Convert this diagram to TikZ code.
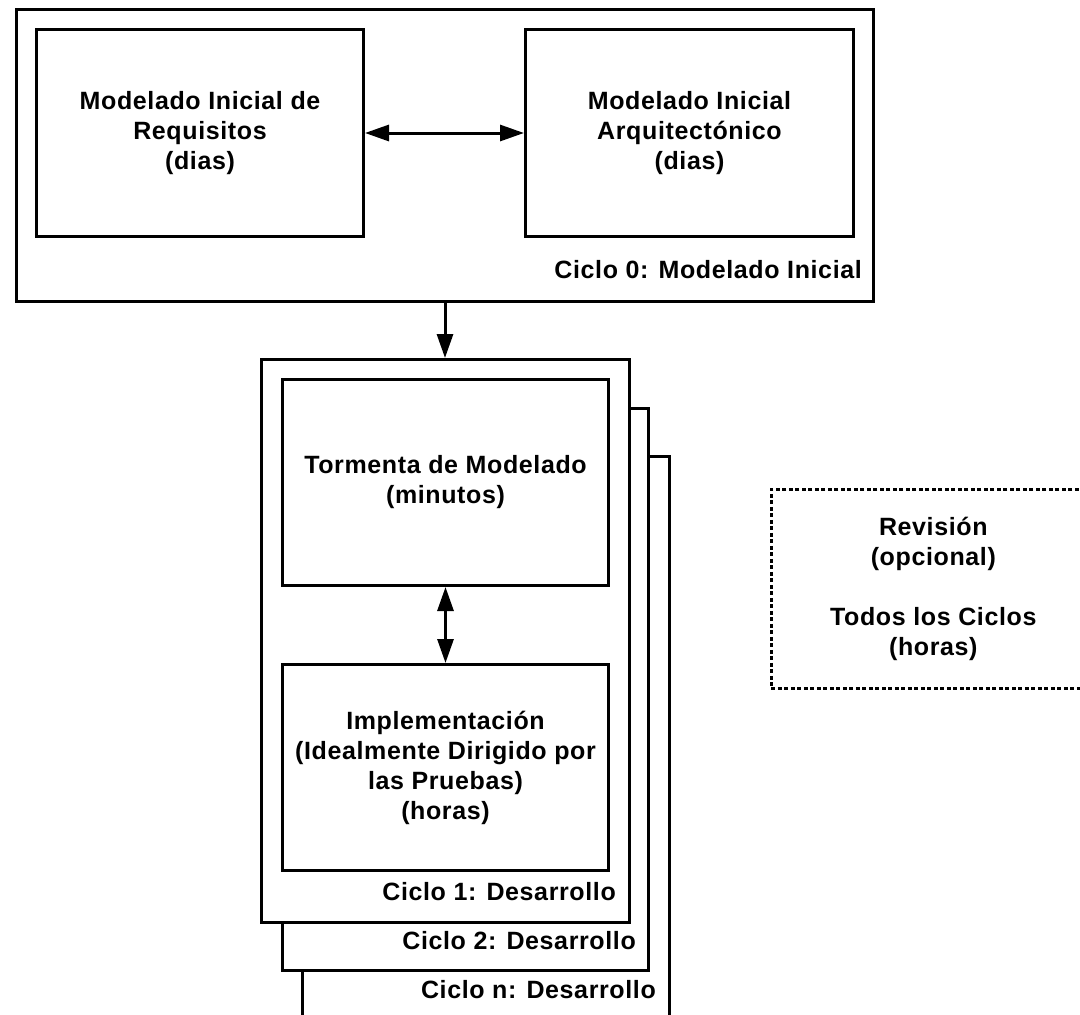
\documentclass[tikz,border=0pt]{standalone}
\usepackage{fontspec}
\setmainfont{Liberation Sans}
\newfontfamily\diafont[LetterSpace=2.5]{Liberation Sans}
\usetikzlibrary{arrows.meta}

\begin{document}
\begin{tikzpicture}[x=1pt,y=-1pt,
  txt/.style={font=\diafont\bfseries\fontsize{25}{30}\selectfont},
  frame/.style={draw, line width=3pt, fill=white, rectangle, inner sep=0pt,
    anchor=north west},
  box/.style={frame, txt, align=center},
  review/.style={draw, line width=2.6pt, dash pattern=on 4pt off 2.5pt,
    rectangle, inner sep=0pt, anchor=north west, txt, align=center},
  lbl/.style={txt, anchor=base east, inner sep=0pt},
  head/.style={Triangle[length=24pt,width=16pt]},
  link/.style={line width=3pt, -{Triangle[length=24pt,width=16pt]}},
  link2/.style={line width=3pt, {Triangle[length=24pt,width=16pt]}-{Triangle[length=24pt,width=16pt]}}
]
\clip (0,0) rectangle (1080,1015);
\fill[white] (0,0) rectangle (1080,1015);

% Cycle 0: initial modelling
\node[frame, minimum width=857pt, minimum height=292pt] (c0) at (15,8) {};
\node[box, minimum width=327pt, minimum height=207pt] (req) at (35,28)
  {Modelado Inicial de\\Requisitos\\(dias)};
\node[box, minimum width=328pt, minimum height=207pt] (arq) at (524,28)
  {Modelado Inicial\\Arquitectónico\\(dias)};
\node[lbl] (l0) at (862,278) {Ciclo 0: Modelado Inicial};
\draw[link2] (req.east) -- (arq.west);

% Development cycles, stacked back to front
\node[frame, minimum width=367pt, minimum height=620pt] (cn) at (301,455) {};
\node[frame, minimum width=366pt, minimum height=562pt] (c2) at (281,407) {};
\node[frame, minimum width=368pt, minimum height=563pt] (c1) at (260,358) {};
\node[lbl] (ln) at (656,998) {Ciclo n: Desarrollo};
\node[lbl] (l2) at (636,949) {Ciclo 2: Desarrollo};
\node[lbl] (l1) at (616,900) {Ciclo 1: Desarrollo};

\node[box, minimum width=326pt, minimum height=206pt] (storm) at (281,378)
  {Tormenta de Modelado\\(minutos)};
\node[box, minimum width=326pt, minimum height=206pt] (impl) at (281,663)
  {Implementación\\(Idealmente Dirigido por\\las Pruebas)\\(horas)};
\draw[link2] (storm.south) -- (impl.north);

\draw[link] (c0.south) -- (c0.south |- c1.north);

% Optional review, spanning all cycles
\node[review, minimum width=324pt, minimum height=199pt] (rev) at (770,488)
  {Revisión\\(opcional)\\[30pt]Todos los Ciclos\\(horas)};
\end{tikzpicture}
\end{document}
